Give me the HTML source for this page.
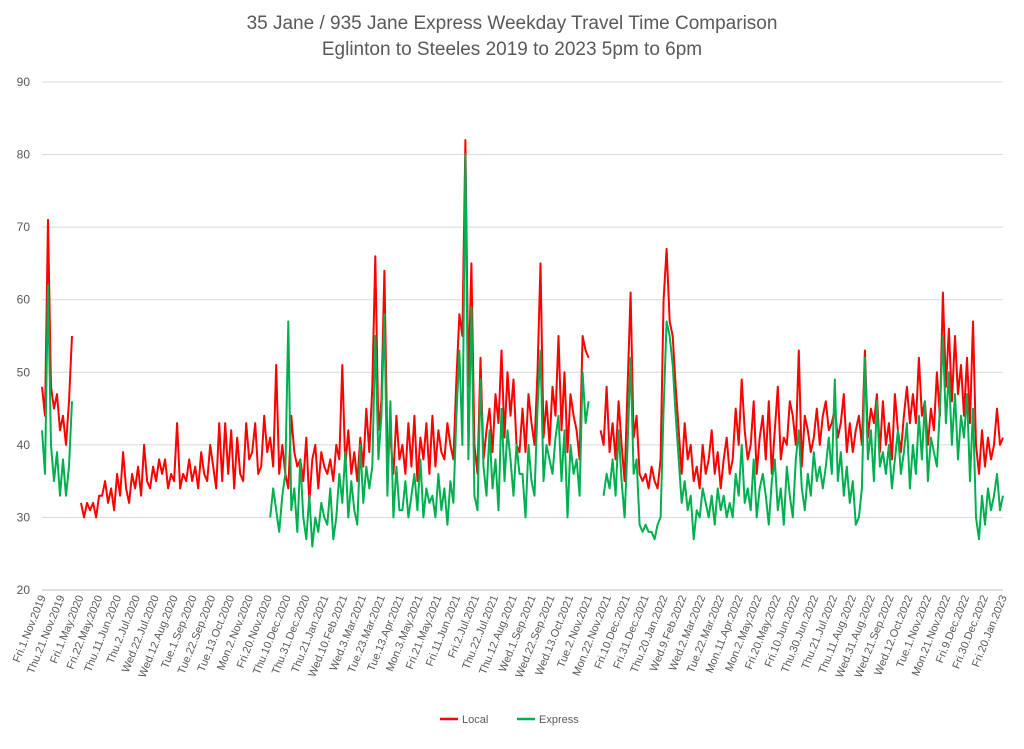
<!DOCTYPE html>
<html><head><meta charset="utf-8">
<style>
body{margin:0;background:#fff;}
svg text{font-family:"Liberation Sans",Arial,sans-serif;fill:#595959;}
</style></head>
<body>
<svg id="chart" width="1024" height="744" viewBox="0 0 1024 744" xmlns="http://www.w3.org/2000/svg">
<rect width="1024" height="744" fill="#fff"/>
<text x="512" y="29" text-anchor="middle" font-size="19">35 Jane / 935 Jane Express Weekday Travel Time Comparison</text>
<text x="512" y="55" text-anchor="middle" font-size="19">Eglinton to Steeles 2019 to 2023 5pm to 6pm</text>
<g id="grid"></g>
<g id="yticks"></g>
<g id="xticks"></g>
<g id="series"></g>
<g>
<line x1="440" y1="719" x2="458" y2="719" stroke="#ff0000" stroke-width="2.5"/>
<text x="462" y="723" font-size="11">Local</text>
<line x1="517" y1="719" x2="535" y2="719" stroke="#00b050" stroke-width="2.5"/>
<text x="539" y="723" font-size="11">Express</text>
</g>
</svg>
<script>
const yTicks=[20,30,40,50,60,70,80,90];
const xLabels=["Fri.1.Nov.2019","Thu.21.Nov.2019","Fri.1.May.2020","Fri.22.May.2020","Thu.11.Jun.2020","Thu.2.Jul.2020","Wed.22.Jul.2020","Wed.12.Aug.2020","Tue.1.Sep.2020","Tue.22.Sep.2020","Tue.13.Oct.2020","Mon.2.Nov.2020","Fri.20.Nov.2020","Thu.10.Dec.2020","Thu.31.Dec.2020","Thu.21.Jan.2021","Wed.10.Feb.2021","Wed.3.Mar.2021","Tue.23.Mar.2021","Tue.13.Apr.2021","Mon.3.May.2021","Fri.21.May.2021","Fri.11.Jun.2021","Fri.2.Jul.2021","Thu.22.Jul.2021","Thu.12.Aug.2021","Wed.1.Sep.2021","Wed.22.Sep.2021","Wed.13.Oct.2021","Tue.2.Nov.2021","Mon.22.Nov.2021","Fri.10.Dec.2021","Fri.31.Dec.2021","Thu.20.Jan.2022","Wed.9.Feb.2022","Wed.2.Mar.2022","Tue.22.Mar.2022","Mon.11.Apr.2022","Mon.2.May.2022","Fri.20.May.2022","Fri.10.Jun.2022","Thu.30.Jun.2022","Thu.21.Jul.2022","Thu.11.Aug.2022","Wed.31.Aug.2022","Wed.21.Sep.2022","Wed.12.Oct.2022","Tue.1.Nov.2022","Mon.21.Nov.2022","Fri.9.Dec.2022","Fri.30.Dec.2022","Fri.20.Jan.2023"];
const n=null;
const localVals=[48,44,71,48,45,47,42,44,40,46,55,n,n,32,30,32,31,32,30,33,
33,35,32,34,31,36,33,39,34,32,36,34,37,33,40,35,34,37,35,38,
36,38,34,36,35,43,34,36,35,38,35,37,34,39,36,35,40,37,34,43,
35,43,36,42,34,41,36,35,43,38,39,43,36,37,44,39,41,37,51,36,
40,36,34,44,39,37,38,35,41,32,38,40,34,39,37,36,38,35,40,38,
51,37,42,36,39,35,41,37,45,39,48,66,42,46,64,39,41,36,44,38,
40,36,43,37,44,35,41,38,43,36,44,37,42,39,38,43,40,38,49,58,
55,82,48,65,40,36,52,38,42,45,39,47,43,53,41,50,44,49,40,39,
45,39,47,43,40,50,65,41,46,40,48,44,55,42,50,39,47,44,42,38,
55,53,52,n,n,n,42,40,48,39,43,38,46,40,35,48,61,41,44,36,
35,36,34,37,35,34,38,60,67,57,55,48,42,36,43,38,40,35,37,34,
40,36,38,42,36,39,34,38,41,36,38,45,40,49,42,38,40,46,36,41,
44,38,46,36,42,48,38,41,40,46,44,40,53,37,44,42,39,41,45,40,
44,46,42,43,45,41,43,47,39,43,39,42,44,40,53,41,45,43,47,39,
46,40,43,38,47,42,39,44,48,43,47,43,52,44,46,40,45,42,50,44,
61,48,56,46,55,47,51,44,52,43,57,40,36,42,37,41,38,40,45,40,41];
const expressVals=[42,36,62,40,35,39,33,38,33,37,46,n,n,n,n,n,n,n,n,n,
n,n,n,n,n,n,n,n,n,n,n,n,n,n,n,n,n,n,n,n,
n,n,n,n,n,n,n,n,n,n,n,n,n,n,n,n,n,n,n,n,
n,n,n,n,n,n,n,n,n,n,n,n,n,n,n,n,30,34,31,28,
33,36,57,31,34,28,38,30,27,33,26,30,28,32,30,29,34,27,30,36,
32,39,30,35,31,29,40,32,37,34,37,55,38,44,58,33,46,30,37,31,
31,35,30,33,36,31,38,30,34,32,33,30,36,31,34,29,35,32,44,53,
40,80,38,59,33,31,49,37,33,42,34,38,31,45,35,42,38,33,40,36,
36,30,40,35,33,45,53,35,40,38,36,41,44,35,42,30,40,36,38,33,
50,43,46,n,n,n,n,33,36,34,38,33,42,35,30,40,52,36,38,29,
28,29,28,28,27,29,30,45,57,55,51,44,38,32,35,31,33,27,31,30,
34,32,30,33,29,34,31,33,30,32,30,36,33,40,32,34,31,38,30,34,
36,33,29,35,38,31,34,29,37,33,30,38,42,34,31,36,33,39,35,37,
34,37,41,36,49,35,39,33,37,32,35,29,30,34,52,38,42,35,46,37,
39,36,40,34,38,42,36,39,43,34,40,36,44,38,46,35,41,39,37,45,
55,43,50,40,47,38,44,41,47,35,45,30,27,33,29,34,31,33,36,31,33];

const X0=42,X1=1003,Y20=590,Y90=82;
const yScale=v=>Y20-(v-20)*(Y20-Y90)/70;
const xIdx=i=>X0+i*(X1-X0)/(localVals.length-1);
const xLab=i=>X0+i*(X1-X0)/(xLabels.length-1);
const NS="http://www.w3.org/2000/svg";
const mk=(t,a,p)=>{const e=document.createElementNS(NS,t);for(const k in a)e.setAttribute(k,a[k]);p.appendChild(e);return e;};
const grid=document.getElementById('grid'),yt=document.getElementById('yticks'),xt=document.getElementById('xticks'),ser=document.getElementById('series');
yTicks.forEach(v=>{
  const l=mk('line',{x1:X0,x2:X1,y1:yScale(v),y2:yScale(v),stroke:v===20?'#bfbfbf':'#d9d9d9','stroke-width':1},grid);
  
  
  const t=mk('text',{x:30,y:yScale(v)+4,'text-anchor':'end','font-size':12},yt);
  t.textContent=v;
  
  
});
xLabels.forEach((s,i)=>{
  const x=xLab(i)+4,y=597;
  const t=mk('text',{x:x,y:y,'text-anchor':'end','font-size':11,transform:`rotate(-68 ${x} ${y})`},xt);
  t.textContent=s;
  
  
});
function draw(vals,color,name){
  let d='',pen=false;
  vals.forEach((v,i)=>{
    if(v===null){pen=false;return;}
    d+=(pen?'L':'M')+xIdx(i).toFixed(1)+' '+yScale(v).toFixed(1)+' ';pen=true;
  });
  const p=mk('path',{d:d,fill:'none',stroke:color,'stroke-width':2,'stroke-linejoin':'round'},ser);
  
  
}
draw(localVals,'#ff0000','local-series-line');
draw(expressVals,'#00b050','express-series-line');
</script>
</body></html>
